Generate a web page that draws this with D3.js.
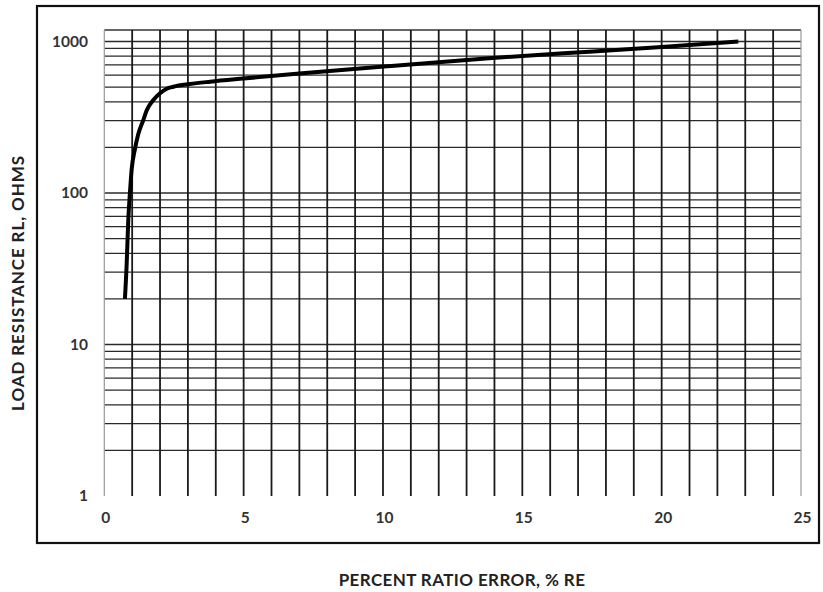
<!DOCTYPE html>
<html>
<head>
<meta charset="utf-8">
<script src="https://cdn.jsdelivr.net/npm/d3@7"></script>
<style>
    body { margin: 0; background: #fff; }
    text { font-family: Lato, "Open Sans", sans-serif; font-weight: bold; fill: #222; }
</style>
</head>
<body>
<svg id="chart" width="823" height="592"></svg>
<script>
// curve: percent ratio error vs load resistance
var errorPct = [0.74, 0.8, 0.86, 0.92, 0.98, 1.1, 1.22, 1.4, 1.52, 1.76, 2.0, 2.24, 2.48, 3.07, 3.8, 5, 7, 10.3, 13.8, 17.4, 20, 22.75];
var loadOhms = [20, 33, 66, 100, 142, 195, 245, 303, 350, 411, 455, 488, 503, 524, 543, 570, 615, 690, 775, 857, 920, 1000];
var xTicks = [0, 5, 10, 15, 20, 25];
var yTicks = [1, 10, 100, 1000];
var xTitle = "PERCENT RATIO ERROR, % RE";
var yTitle = "LOAD RESISTANCE RL, OHMS";

var svg = d3.select("#chart");
var plotLeft = 104.3, plotRight = 801, plotBottom = 496, plotTop = 30;

var x = d3.scaleLinear().domain([0, 25]).range([plotLeft, plotRight]);
var y = d3.scaleLog().domain([1, 1000]).range([plotBottom, 41.5]);

// outer frame
svg.append("rect")
    .attr("x", 37).attr("y", 6)
    .attr("width", 782).attr("height", 537)
    .attr("fill", "none").attr("stroke", "#111").attr("stroke-width", 2.2);

var grid = svg.append("g").attr("class", "grid");

// log minor lines 2..10 for each decade
var yGrid = [];
yTicks.slice(0, -1).forEach(function (d) {
    for (var i = 2; i <= 10; i++) { yGrid.push(d * i); }
});
grid.selectAll("line.ygrid").data(yGrid).enter().append("line")
    .attr("class", "ygrid")
    .attr("x1", plotLeft).attr("x2", plotRight)
    .attr("y1", y).attr("y2", y)
    .attr("stroke", "#2a2a2a").attr("stroke-width", 1.3);

// top edge of plot area
grid.append("line")
    .attr("x1", plotLeft).attr("x2", plotRight)
    .attr("y1", plotTop).attr("y2", plotTop)
    .attr("stroke", "#333").attr("stroke-width", 1.3);

grid.selectAll("line.xgrid").data(d3.range(0, 26)).enter().append("line")
    .attr("class", "xgrid")
    .attr("x1", x).attr("x2", x)
    .attr("y1", plotTop).attr("y2", plotBottom)
    .attr("stroke", function (d) { return (d === 0 || d === 25) ? "#999" : "#1a1a1a"; })
    .attr("stroke-width", function (d) { return (d === 0 || d === 25) ? 1.2 : 1.8; });

// tick labels
svg.selectAll("text.ytick").data(yTicks).enter().append("text")
    .attr("class", "ytick")
    .attr("x", 88).attr("y", y)
    .attr("dy", "0.35em")
    .attr("text-anchor", "end")
    .style("font-size", "15.5px")
    .style("fill", "#333")
    .text(function (d) { return d; });

svg.selectAll("text.xtick").data(xTicks).enter().append("text")
    .attr("class", "xtick")
    .attr("x", function (d) { return x(d) + 1.5; }).attr("y", 518)
    .attr("dy", "0.35em")
    .attr("text-anchor", "middle")
    .style("font-size", "15.5px")
    .style("fill", "#333")
    .text(function (d) { return d; });

// axis titles
svg.append("text")
    .attr("x", 462).attr("y", 580)
    .attr("dy", "0.35em")
    .attr("text-anchor", "middle")
    .style("font-size", "17px")
    .style("letter-spacing", "0.4px")
    .text(xTitle);

svg.append("text")
    .attr("transform", "translate(18,283) rotate(-90)")
    .attr("dy", "0.35em")
    .attr("text-anchor", "middle")
    .style("font-size", "17px")
    .style("letter-spacing", "0.9px")
    .text(yTitle);

// the curve
var line = d3.line()
    .x(function (d) { return x(d[0]); })
    .y(function (d) { return y(d[1]); })
    .curve(d3.curveMonotoneX);

svg.append("path")
    .datum(d3.zip(errorPct, loadOhms))
    .attr("d", line)
    .attr("fill", "none")
    .attr("stroke", "#000")
    .attr("stroke-width", 4)
    .attr("stroke-linejoin", "round");
</script>
</body>
</html>
